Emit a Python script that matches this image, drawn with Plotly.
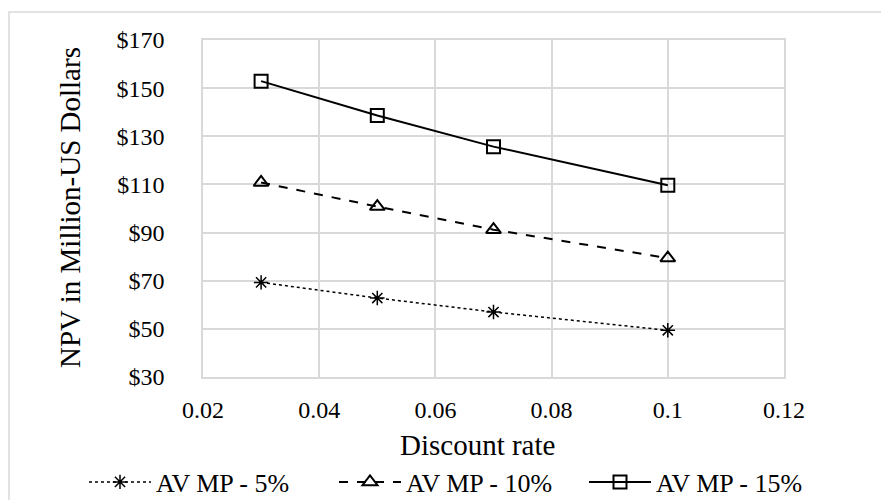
import plotly.graph_objects as go

# Discount rates and NPV (million US$) for the three AV market-penetration cases
discount_rate = [0.03, 0.05, 0.07, 0.10]
npv_mp5 = [69.3, 62.8, 57.0, 49.4]
npv_mp10 = [110.8, 100.8, 91.2, 79.4]
npv_mp15 = [152.9, 138.6, 125.7, 109.7]

y_ticks = [30, 50, 70, 90, 110, 130, 150, 170]
y_tick_text = [f"${v}" for v in y_ticks]
x_ticks = [0.02, 0.04, 0.06, 0.08, 0.10, 0.12]
x_tick_text = ["0.02", "0.04", "0.06", "0.08", "0.1", "0.12"]

x_title = "Discount rate"
y_title = "NPV in Million-US Dollars"

W, H = 881, 500
ML, MR, MT, MB = 203, 97, 40, 123
PW, PH = W - ML - MR, H - MT - MB


def px_x(px):
    return (px - ML) / PW


def px_y(py):
    return 1 - (py - MT) / PH


font_family = "Liberation Serif, Times New Roman, serif"
grid = "#d9d9d9"

fig = go.Figure()
fig.add_trace(go.Scatter(
    x=discount_rate, y=npv_mp5, name="AV MP - 5%", mode="lines+markers",
    line=dict(color="black", width=1.5, dash="dot"),
    marker=dict(symbol="asterisk-open", size=12, color="black",
                line=dict(color="black", width=1.5)),
))
fig.add_trace(go.Scatter(
    x=discount_rate, y=npv_mp10, name="AV MP - 10%", mode="lines+markers",
    line=dict(color="black", width=2, dash="dash"),
    marker=dict(symbol="triangle-up-open", size=13, color="black",
                line=dict(color="black", width=2)),
))
fig.add_trace(go.Scatter(
    x=discount_rate, y=npv_mp15, name="AV MP - 15%", mode="lines+markers",
    line=dict(color="black", width=2),
    marker=dict(symbol="square-open", size=13, color="black",
                line=dict(color="black", width=2)),
))

# outer chart border
fig.add_shape(
    type="rect", xref="paper", yref="paper",
    x0=px_x(9), x1=px_x(W + 5), y0=px_y(H + 5), y1=px_y(12),
    line=dict(color=grid, width=1.5), layer="below",
)

# axis titles
fig.add_annotation(
    text=x_title, xref="paper", yref="paper", x=px_x(477), y=px_y(445),
    xanchor="center", yanchor="middle", showarrow=False,
    font=dict(size=29, family=font_family, color="black"),
)
fig.add_annotation(
    text=y_title, xref="paper", yref="paper", x=px_x(70), y=px_y(208),
    xanchor="center", yanchor="middle", showarrow=False, textangle=-90,
    font=dict(size=29, family=font_family, color="black"),
)

fig.update_layout(
    width=W, height=H,
    margin=dict(l=ML, r=MR, t=MT, b=MB, autoexpand=False),
    paper_bgcolor="white", plot_bgcolor="white",
    font=dict(family=font_family, size=24, color="black"),
    showlegend=True,
    legend=dict(
        orientation="h",
        x=px_x(84), xanchor="left", y=px_y(482), yanchor="middle",
        font=dict(size=26), itemwidth=62, entrywidth=173,
        bgcolor="rgba(0,0,0,0)",
    ),
    xaxis=dict(
        range=[0.02, 0.12], tickvals=x_ticks, ticktext=x_tick_text,
        showgrid=True, gridcolor=grid, gridwidth=1.5,
        showline=True, linecolor=grid, linewidth=1.5, mirror=True,
        zeroline=False, ticks="", ticklabelstandoff=10, automargin=False,
    ),
    yaxis=dict(
        range=[30, 170], tickvals=y_ticks, ticktext=y_tick_text,
        showgrid=True, gridcolor=grid, gridwidth=1.5,
        showline=True, linecolor=grid, linewidth=1.5, mirror=True,
        zeroline=False, ticks="", ticklabelstandoff=32, automargin=False,
    ),
)

fig.write_html("out.html")
